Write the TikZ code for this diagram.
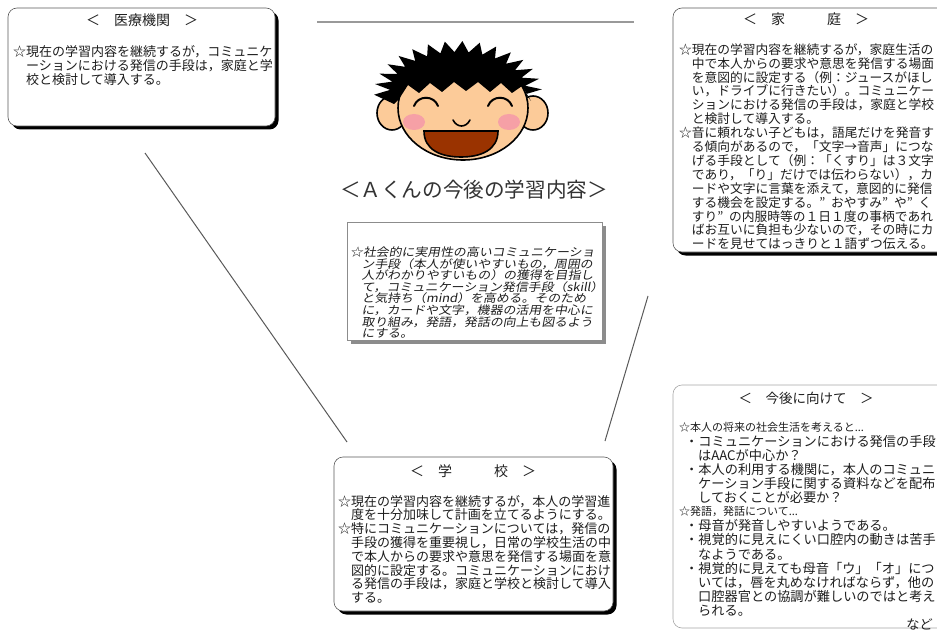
\documentclass[tikz,border=0pt]{standalone}
\usepackage{fontspec}
\newfontfamily\jp{Noto Sans CJK JP}
\newfontfamily\jpit[FakeSlant=0.18,FakeStretch=1.12]{Noto Sans CJK JP}
\usetikzlibrary{shadows}

\definecolor{skin}{HTML}{FCCB99}
\definecolor{cheek}{HTML}{F6A0A6}
\definecolor{mouthc}{HTML}{9A3300}
\definecolor{ink}{HTML}{1E1E1E}

% one full-width indent
\newcommand\I{\hspace*{1em}}
% gap after a closing quote
\newcommand\Q{”\hspace{0.45em}}

\tikzset{
  card/.style={draw=black!65, line width=0.6pt, fill=white, rounded corners=9pt,
    drop shadow={shadow xshift=3.5pt, shadow yshift=-3.5pt, fill=black, opacity=1}},
  flatcard/.style={draw=black!35, line width=0.6pt, fill=white, rounded corners=9pt},
  goalbox/.style={draw=black!45, line width=0.8pt, fill=white,
    drop shadow={shadow xshift=4pt, shadow yshift=-4pt, fill=black!45, opacity=1}},
  txtline/.style={inner sep=0pt, text=ink, anchor=base west},
  heading/.style={inner sep=0pt, text=ink, anchor=base},
  rule/.style={draw=black!65, line width=1pt},
  toprule/.style={draw=black!40, line width=2pt},
  outline/.style={draw=black, line width=1.6pt},
}

% one node per text line: name, x, first baseline, line step, font, lines
\newcommand\txtblock[6]{%
  \foreach \t [count=\i] in {#6}
    \node[txtline, font=#5] (#1\i) at (#2, {#3+(\i-1)*#4}) {\t};
}

\begin{document}
\begin{tikzpicture}[x=1pt, y=-1pt]
\useasboundingbox (0,0) rectangle (937,631);
\clip (0,0) rectangle (937,631);

% ---------- connecting lines ----------
\coordinate (ta) at (317,22);  \coordinate (tb) at (634,22);
\coordinate (la) at (145,153); \coordinate (lb) at (347,442);
\coordinate (ra) at (648,296); \coordinate (rb) at (605,441);
\draw[toprule] (ta) -- (tb);
\draw[rule] (la) -- (lb);
\draw[rule] (ra) -- (rb);

% ---------- boxes ----------
\node[card, minimum width=267pt, minimum height=118pt] (med) at (141.5,67) {};
\node[card, minimum width=282pt, minimum height=244pt] (home) at (814,130) {};
\node[flatcard, minimum width=282pt, minimum height=243pt] (future) at (814,506.5) {};
\node[card, minimum width=279pt, minimum height=154pt] (school) at (473.5,534) {};
\node[goalbox, minimum width=255pt, minimum height=118pt] (goal) at (474.5,281) {};

% ---------- headings ----------
\node[heading, font=\jp\fontsize{14}{14}\selectfont] (medT) at (142,26) {＜\I 医療機関\I ＞};
\node[heading, font=\jp\fontsize{14}{14}\selectfont] (homeT) at (806,25) {＜\I 家\hspace*{3em}庭\I ＞};
\node[heading, font=\jp\fontsize{14}{14}\selectfont] (schoolT) at (473,476) {＜\I 学\hspace*{3em}校\I ＞};
\node[heading, font=\jp\fontsize{13.5}{13.5}\selectfont] (futureT) at (806,403) {＜\I 今後に向けて\I ＞};
\node[heading, font=\jp\fontsize{20.6}{20.6}\selectfont, text=black!80] (mainT) at (474,198) {＜Ａくんの今後の学習内容＞};

% ---------- texts ----------
\txtblock{medL}{13}{57}{14}{\jp\fontsize{13}{13}\selectfont}{%
☆現在の学習内容を継続するが，コミュニケ,
\I ーションにおける発信の手段は，家庭と学,
\I 校と検討して導入する。}

\txtblock{homeL}{679}{54.3}{13.9}{\jp\fontsize{12.75}{12.75}\selectfont}{%
☆現在の学習内容を継続するが，家庭生活の,
\I 中で本人からの要求や意思を発信する場面,
\I を意図的に設定する（例：ジュースがほし,
\I い，ドライブに行きたい）。コミュニケー,
\I ションにおける発信の手段は，家庭と学校,
\I と検討して導入する。,
☆音に頼れない子どもは，語尾だけを発音す,
\I る傾向があるので，「文字→音声」につな,
\I げる手段として（例：「くすり」は３文字,
\I であり，「り」だけでは伝わらない），カ,
\I ードや文字に言葉を添えて，意図的に発信,
\I する機会を設定する。\Q おやすみ\Q や\Q く,
\I すり\Q の内服時等の１日１度の事柄であれ,
\I ばお互いに負担も少ないので，その時にカ,
\I ードを見せてはっきりと１語ずつ伝える。}

\txtblock{goalL}{350}{256.4}{11.6}{\jpit\fontsize{11.5}{11.5}\selectfont}{%
☆社会的に実用性の高いコミュニケーショ,
\I ン手段（本人が使いやすいもの，周囲の,
\I 人がわかりやすいもの）の獲得を目指し,
\I て，コミュニケーション発信手段（skill）,
\I と気持ち（mind）を高める。そのため,
\I に，カードや文字，機器の活用を中心に,
\I 取り組み，発語，発話の向上も図るよう,
\I にする。}

\txtblock{schoolL}{338}{506}{13.8}{\jp\fontsize{13}{13}\selectfont}{%
☆現在の学習内容を継続するが，本人の学習進,
\I 度を十分加味して計画を立てるようにする。,
☆特にコミュニケーションについては，発信の,
\I 手段の獲得を重要視し，日常の学校生活の中,
\I で本人からの要求や意思を発信する場面を意,
\I 図的に設定する。コミュニケーションにおけ,
\I る発信の手段は，家庭と学校と検討して導入,
\I する。}

% future box: headline items, bullets and their continuations
\def\fs{\jp\fontsize{11}{11}\selectfont}
\def\fb{\jp\fontsize{13.2}{13.2}\selectfont}
\node[txtline, font=\fs] (fu1) at (679,431.2) {☆本人の将来の社会生活を考えると...};
\node[txtline, font=\fb] (fu2) at (685,446.2) {・コミュニケーションにおける発信の手段};
\node[txtline, font=\fb] (fu3) at (698,460.3) {はAACが中心か？};
\node[txtline, font=\fb] (fu4) at (685,474.4) {・本人の利用する機関に，本人のコミュニ};
\node[txtline, font=\fb] (fu5) at (698,488.5) {ケーション手段に関する資料などを配布};
\node[txtline, font=\fb] (fu6) at (698,502.6) {しておくことが必要か？};
\node[txtline, font=\fs] (fu7) at (679,515.8) {☆発語，発話について...};
\node[txtline, font=\fb] (fu8) at (685,530.8) {・母音が発音しやすいようである。};
\node[txtline, font=\fb] (fu9) at (685,544.9) {・視覚的に見えにくい口腔内の動きは苦手};
\node[txtline, font=\fb] (fu10) at (698,559.0) {なようである。};
\node[txtline, font=\fb] (fu11) at (685,573.1) {・視覚的に見えても母音「ウ」「オ」につ};
\node[txtline, font=\fb] (fu12) at (698,587.2) {いては，唇を丸めなければならず，他の};
\node[txtline, font=\fb] (fu13) at (698,601.3) {口腔器官との協調が難しいのではと考え};
\node[txtline, font=\fb] (fu14) at (698,615.4) {られる。};
\node[inner sep=0pt, text=ink, anchor=base east, font=\fb] (fu15) at (933,629.5) {など};

% ---------- boy's face ----------
% ears
\filldraw[outline, fill=skin] (392,113) ellipse [x radius=15, y radius=17];
\filldraw[outline, fill=skin] (533,113) ellipse [x radius=15, y radius=17];
% face
\filldraw[outline, fill=skin] (463,108) ellipse [x radius=65, y radius=52];
% spiky hair with a jagged fringe
\fill[black] (394,104)
  \foreach \ao/\ai in {177/183,189/195,201/207,213/219,225/231,237/243,249/255,261/267,
                       273/279,285/291,297/303,309/315,321/327,333/339,345/351,357/363}
  { -- ([shift={(458,92)}] \ao:84 and 51) -- ([shift={(458,92)}] \ai:68 and 40) }
  -- (531,101) -- (522,86) -- (512,93) -- (501,83) -- (490,92) -- (478,82)
  -- (466,91) -- (454,82) -- (442,92) -- (430,83) -- (419,93) -- (408,85)
  -- (399,99) -- cycle;
% closed smiling eyes
\draw[black, line width=2pt, line cap=round] (414,106) .. controls (418,95) and (434,95) .. (438,106);
\draw[black, line width=2pt, line cap=round] (488,106) .. controls (492,95) and (508,95) .. (512,106);
% cheeks
\fill[cheek] (414,122) ellipse [x radius=11, y radius=8];
\fill[cheek] (509,122) ellipse [x radius=11, y radius=8];
% nose
\draw[black, line width=1.6pt, line cap=round] (453,120) .. controls (457,128) and (466,128) .. (470,120);
% open mouth
\filldraw[outline, fill=mouthc] (424,131) -- (498,131)
  .. controls (498,150) and (481,157) .. (461,157)
  .. controls (441,157) and (424,150) .. cycle;
\end{tikzpicture}
\end{document}
